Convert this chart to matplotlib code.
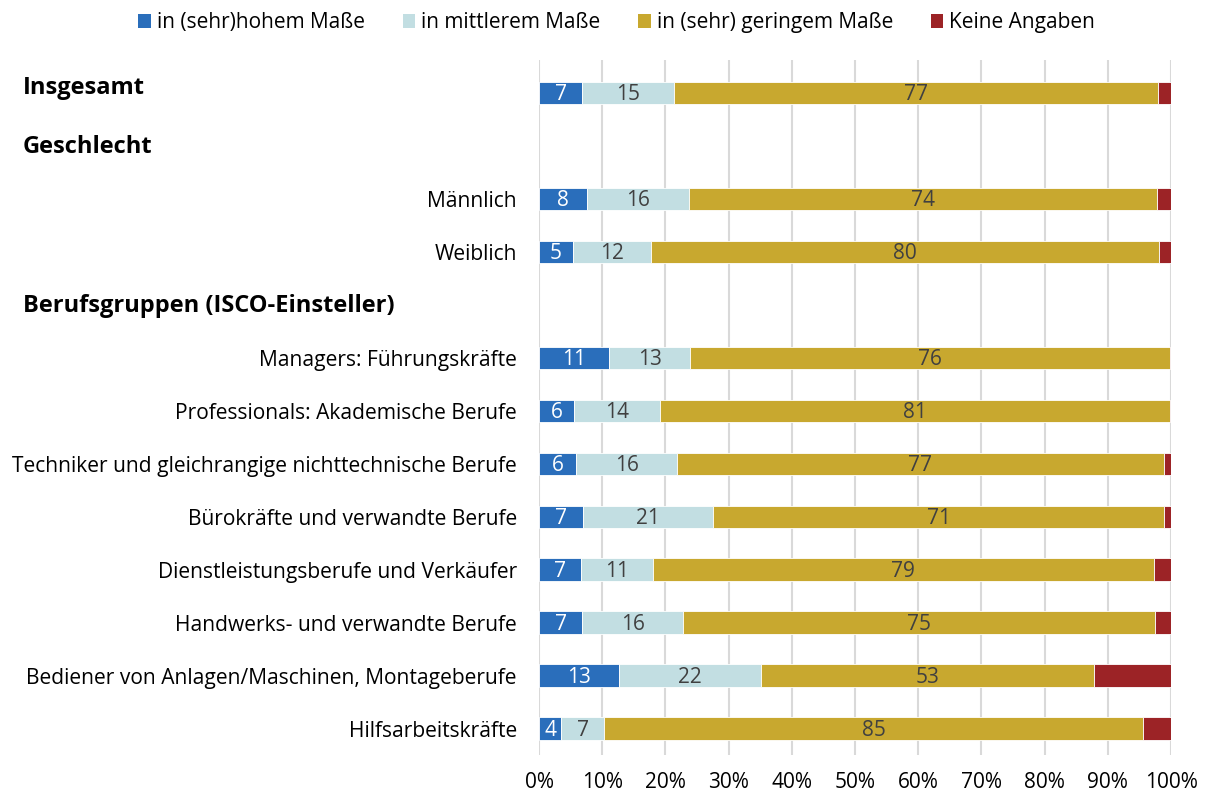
import numpy as np
import matplotlib.pyplot as plt
from matplotlib.patches import Patch
from matplotlib.transforms import blended_transform_factory

plt.rcParams['font.family'] = ['Open Sans', 'DejaVu Sans']

# rows from top to bottom; nan = header row without bar
rows = ["Insgesamt", "Geschlecht", "Männlich", "Weiblich",
        "Berufsgruppen (ISCO-Einsteller)",
        "Managers: Führungskräfte",
        "Professionals: Akademische Berufe",
        "Techniker und gleichrangige nichttechnische Berufe",
        "Bürokräfte und verwandte Berufe",
        "Dienstleistungsberufe und Verkäufer",
        "Handwerks- und verwandte Berufe",
        "Bediener von Anlagen/Maschinen, Montageberufe",
        "Hilfsarbeitskräfte"]
headers = ["Insgesamt", "Geschlecht", "Berufsgruppen (ISCO-Einsteller)"]

series = ["in (sehr)hohem Maße", "in mittlerem Maße",
          "in (sehr) geringem Maße", "Keine Angaben"]
nan = np.nan
hoch = [6.8, nan, 7.6, 5.4, nan, 11.1, 5.6, 5.9, 7.0, 6.6, 6.8, 12.7, 3.5]
mittel = [14.6, nan, 16.1, 12.3, nan, 12.8, 13.6, 15.9, 20.6, 11.4, 16.0, 22.4, 6.8]
gering = [76.6, nan, 74.1, 80.4, nan, 75.9, 80.6, 77.1, 71.3, 79.3, 74.7, 52.7, 85.3]
keine = [2.0, nan, 2.2, 1.9, nan, 0.2, 0.2, 1.1, 1.1, 2.7, 2.5, 12.2, 4.4]

colors = ["#2A6EBB", "#C2DEE2", "#C8A82F", "#9C2326"]
text_colors = ["white", "#404040", "#404040", None]

fig = plt.figure(figsize=(12.07, 7.97), dpi=100)
ax = fig.add_axes([0.4466, 0.0527, 0.5236, 0.872])

y = np.arange(len(rows))
has_bar = ~np.isnan(np.array(hoch))
left = np.zeros(len(rows))
for name, vals, c, tc in zip(series, [hoch, mittel, gering, keine], colors, text_colors):
    vals = np.nan_to_num(np.array(vals, dtype=float))
    ax.barh(y[has_bar], vals[has_bar], left=left[has_bar], height=0.42, color=c,
            edgecolor="white", linewidth=0.6, label=name, zorder=3)
    if tc is not None:
        for yi in y[has_bar]:
            ax.text(left[yi] + vals[yi] / 2, yi + 0.04, f"{vals[yi]:.0f}", ha="center",
                    va="center", color=tc, fontsize=15, zorder=4)
    left += vals

ax.set_xlim(0, 100)
ax.set_ylim(12.5, -0.62)
ax.set_xticks(np.arange(0, 101, 10))
ax.set_xticklabels([f"{t}%" for t in range(0, 101, 10)], fontsize=15)
ax.grid(axis="x", color="#D9D9D9", linewidth=1.5, zorder=0)
ax.tick_params(length=0)
ax.tick_params(axis="x", pad=12)
ax.tick_params(axis="y", pad=16)
for s in ax.spines.values():
    s.set_visible(False)

ax.set_yticks(y)
ax.set_yticklabels(["" if r in headers else r for r in rows], fontsize=15.1)

tr = blended_transform_factory(fig.transFigure, ax.transData)
for yi, r in enumerate(rows):
    if r in headers:
        off = -0.1 if has_bar[yi] else 0.03
        ax.text(23 / 1207, yi + off, r, transform=tr, ha="left", va="center",
                fontsize=17, fontweight="bold", color="black")

handles = [Patch(facecolor=c, label=n) for n, c in zip(series, colors)]
fig.legend(handles=handles, loc="upper center", bbox_to_anchor=(0.511, 1.008),
           ncol=4, frameon=False, fontsize=15, handlelength=0.6,
           handleheight=0.6, handletextpad=0.3, columnspacing=1.8)

fig.savefig("out.png", dpi=100)
